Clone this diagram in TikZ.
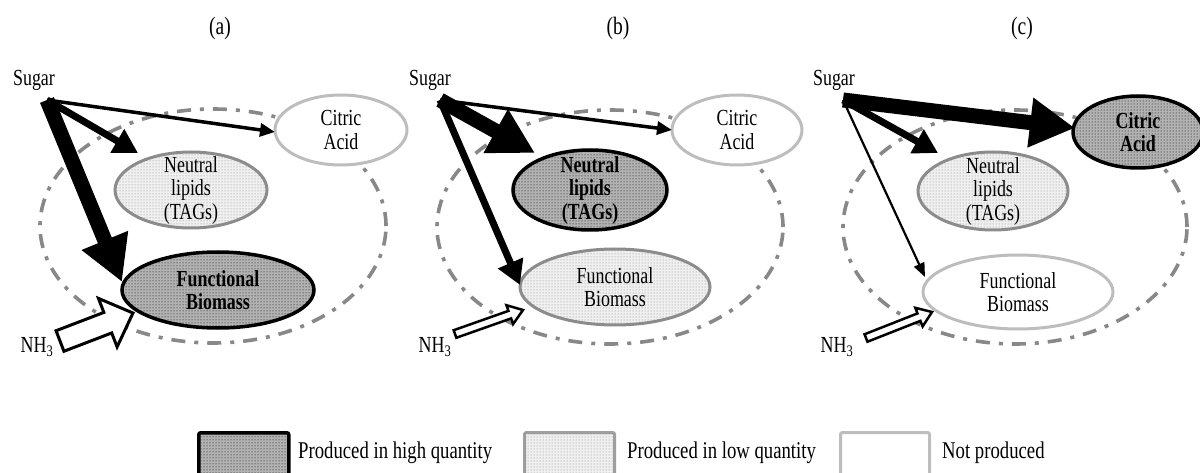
\documentclass[tikz,border=0pt]{standalone}
\usepackage{fontspec}
\setmainfont{Liberation Serif}[FakeStretch=0.78]
\usetikzlibrary{arrows.meta,shapes.geometric,patterns}
\definecolor{nonecol}{HTML}{BDBDBD}
\definecolor{lowcol}{HTML}{8C8C8C}
\definecolor{dashcol}{HTML}{888888}
\tikzset{
  ell/.style={ellipse, inner sep=0pt},
  highell/.style={ell, draw=black, line width=3.5pt, fill=gray!60, postaction={pattern=dots, pattern color=black}},
  lowell/.style={ell, draw=lowcol, line width=3pt, fill=gray!12, postaction={pattern=dots, pattern color=gray}},
  noneell/.style={ell, draw=nonecol, line width=3pt, fill=white},
  cellwall/.style={ell, draw=dashcol, line width=3.6pt, dash pattern=on 14pt off 9pt on 4pt off 9pt},
  etxt/.style={align=center, inner sep=0pt, font=\fontsize{23}{23.5}\selectfont},
  btxt/.style={etxt, font=\fontsize{23}{23.5}\selectfont\bfseries},
  lab/.style={inner sep=0pt, font=\fontsize{23}{26}\selectfont},
  ttl/.style={inner sep=0pt, font=\fontsize{25}{28}\selectfont},
  legtxt/.style={inner sep=0pt, anchor=west, font=\fontsize{24}{28}\selectfont},
  thickarr/.style={line width=15pt, -{Triangle[width=47pt,length=45pt]}},
  medarr/.style={line width=7pt, -{Triangle[width=26pt,length=24pt]}},
  thinarr/.style={line width=3.5pt, -{Triangle[width=13pt,length=15pt]}},
  thinnerarr/.style={line width=2.2pt, -{Triangle[width=11pt,length=14pt]}},
  nhstyle/.style={draw=black, fill=white, line join=miter},
  highbox/.style={draw=black, line width=3.5pt, fill=gray!60, postaction={pattern=dots, pattern color=black}, rounded corners=2pt},
  lowbox/.style={draw=gray!75, line width=3pt, fill=gray!12, postaction={pattern=dots, pattern color=gray}, rounded corners=2pt},
  nonebox/.style={draw=nonecol, line width=3pt, fill=white, rounded corners=2pt},
}
% hollow block arrow: tail x,y ; tip x,y ; shaft width ; head width ; head length ; outline width
\newcommand\nharrow[8]{%
  \pgfmathsetmacro\nhang{atan2(#2-#4,#3-#1)}%
  \pgfmathsetmacro\nhlen{veclen(#3-#1,#4-#2)}%
  \begin{scope}[shift={(#1,#2)},rotate=\nhang]
    \draw[nhstyle, line width=#8pt] (0,-#5/2) -- (\nhlen-#7,-#5/2) -- (\nhlen-#7,-#6/2) -- (\nhlen,0)
      -- (\nhlen-#7,#6/2) -- (\nhlen-#7,#5/2) -- (0,#5/2) -- cycle;
  \end{scope}}
\begin{document}
\begin{tikzpicture}[x=1pt,y=-1pt]
\useasboundingbox (0,0) rectangle (1200,473);
\clip (0,0) rectangle (1200,473);

% ---------------- panel (a)
\node[ttl] (ta) at (220,28) {(a)};
\node[lab] (sugA) at (34,80) {Sugar};
\coordinate (oA) at (47,100);
\node[cellwall, minimum width=346pt, minimum height=234pt] (cellA) at (213,226) {};
\node[noneell, minimum width=132pt, minimum height=70pt] (caA) at (341,130) {};
\node[etxt] (caAt) at (caA) {Citric\\Acid};
\node[lowell, minimum width=152pt, minimum height=76pt] (nlA) at (191,190) {};
\node[etxt] (nlAt) at (nlA) {Neutral\\lipids\\(TAGs)};
\node[highell, minimum width=192pt, minimum height=76pt] (fbA) at (218,290) {};
\node[btxt] (fbAt) at (fbA) {Functional\\Biomass};
\coordinate (aCA) at (275,132);
\coordinate (aNL) at (138,153);
\coordinate (aFB) at (122,282);
\draw[thinarr] (oA) -- (aCA);
\draw[medarr] (oA) -- (aNL);
\draw[thickarr] (oA) -- (aFB);
\nharrow{60}{341}{133}{313}{22}{52}{27}{3}
\node[lab] (nhA) at (37,347) {NH\textsubscript{3}};

% ---------------- panel (b)
\node[ttl] (tb) at (618,28) {(b)};
\node[lab] (sugB) at (430,80) {Sugar};
\coordinate (oB) at (440,100);
\node[cellwall, minimum width=346pt, minimum height=234pt] (cellB) at (610,227) {};
\node[noneell, minimum width=130pt, minimum height=70pt] (caB) at (737,130) {};
\node[etxt] (caBt) at (caB) {Citric\\Acid};
\node[highell, minimum width=154pt, minimum height=80pt] (nlB) at (590,190) {};
\node[btxt] (nlBt) at (nlB) {Neutral\\lipids\\(TAGs)};
\node[lowell, minimum width=190pt, minimum height=76pt] (fbB) at (615,287) {};
\node[etxt] (fbBt) at (fbB) {Functional\\Biomass};
\coordinate (bCA) at (672,130);
\coordinate (bNL) at (535,153);
\coordinate (bFB) at (520,285);
\draw[thinarr] (oB) -- (bCA);
\draw[thickarr] (oB) -- (bNL);
\draw[medarr] (oB) -- (bFB);
\nharrow{455}{334}{523}{310}{8}{20}{14}{2.5}
\node[lab] (nhB) at (435,347) {NH\textsubscript{3}};

% ---------------- panel (c)
\node[ttl] (tc) at (1022,28) {(c)};
\node[lab] (sugC) at (834,80) {Sugar};
\coordinate (oC) at (843,100);
\node[cellwall, minimum width=344pt, minimum height=234pt] (cellC) at (1015,227) {};
\node[lowell, minimum width=150pt, minimum height=78pt] (nlC) at (993,191) {};
\node[etxt] (nlCt) at (nlC) {Neutral\\lipids\\(TAGs)};
\node[noneell, minimum width=190pt, minimum height=74pt] (fbC) at (1018,292) {};
\node[etxt] (fbCt) at (fbC) {Functional\\Biomass};
\node[highell, minimum width=130pt, minimum height=72pt] (caC) at (1138,132) {};
\node[btxt] (caCt) at (caC) {Citric\\Acid};
\coordinate (cCA) at (1075,128);
\coordinate (cNL) at (938,153);
\coordinate (cFB) at (925,277);
\draw[thickarr] (oC) -- (cCA);
\draw[medarr] (oC) -- (cNL);
\draw[thinnerarr] (oC) -- (cFB);
\nharrow{866}{338}{932}{312}{8}{20}{14}{2.5}
\node[lab] (nhC) at (837,347) {NH\textsubscript{3}};

% ---------------- legend
\node[highbox, minimum width=90pt, minimum height=47pt, anchor=north west, inner sep=0pt] (lb1) at (197,431) {};
\node[legtxt] (lt1) at (298,453) {Produced in high quantity};
\node[lowbox, minimum width=90pt, minimum height=47pt, anchor=north west, inner sep=0pt] (lb2) at (523,431) {};
\node[legtxt] (lt2) at (627,453) {Produced in low quantity};
\node[nonebox, minimum width=89pt, minimum height=47pt, anchor=north west, inner sep=0pt] (lb3) at (839,431) {};
\node[legtxt] (lt3) at (942,453) {Not produced};
\end{tikzpicture}
\end{document}
